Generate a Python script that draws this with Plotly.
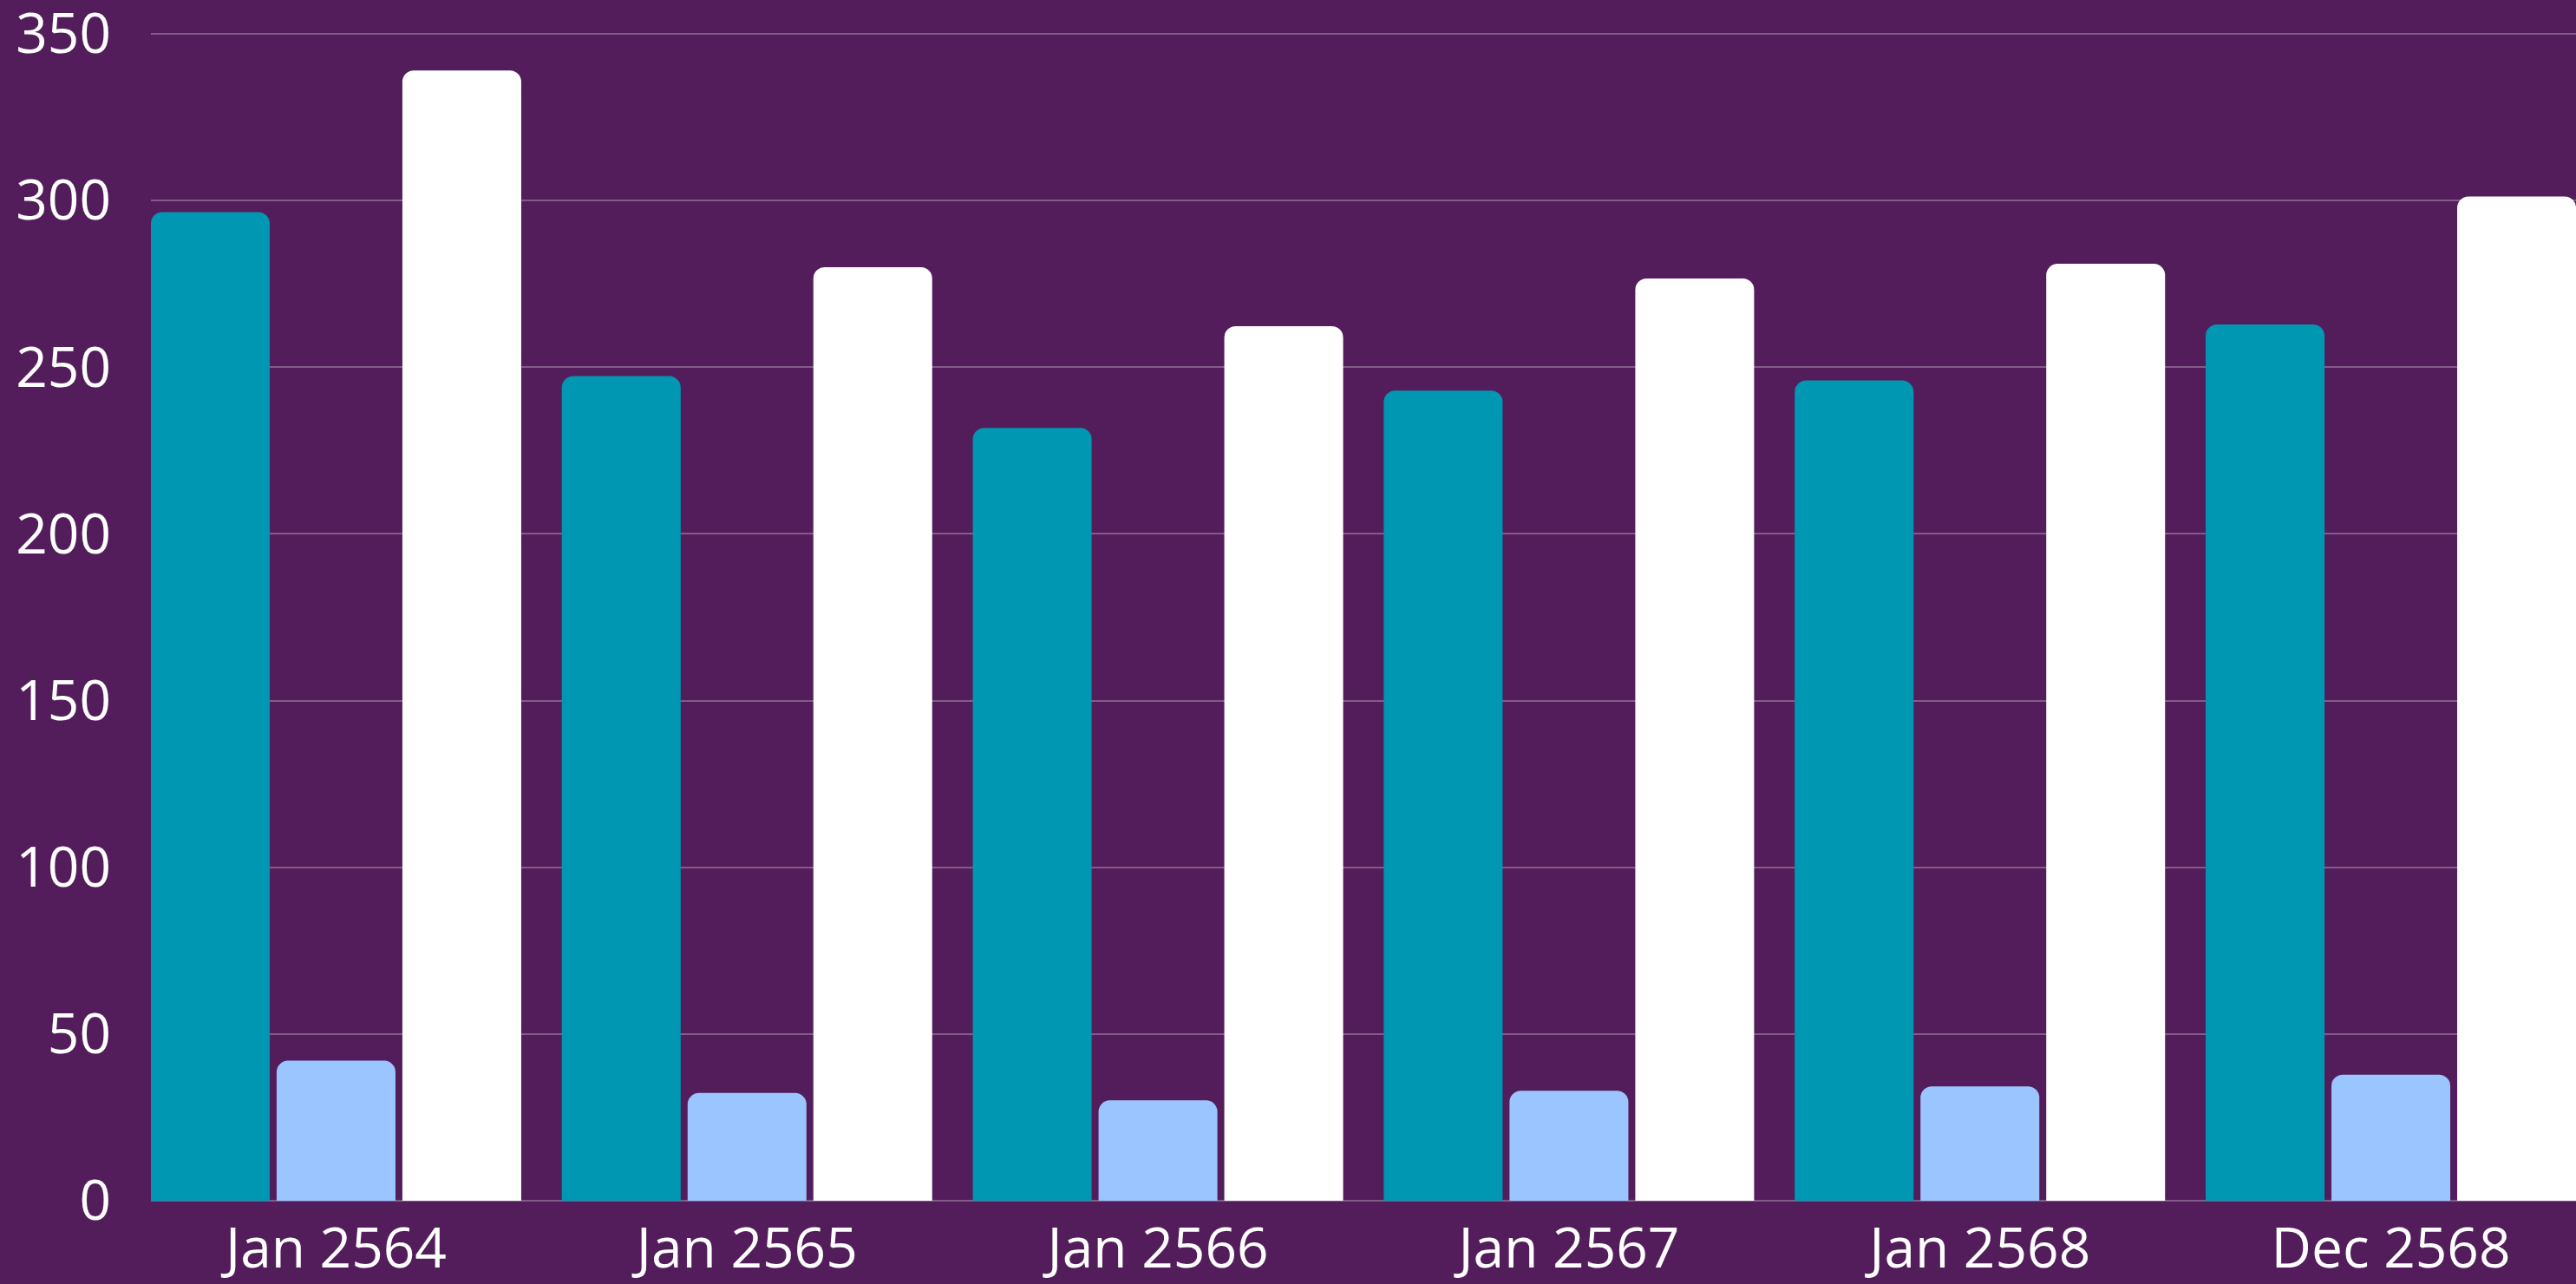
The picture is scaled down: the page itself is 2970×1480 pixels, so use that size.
import plotly.graph_objects as go

categories = ["Jan 2564", "Jan 2565", "Jan 2566", "Jan 2567", "Jan 2568", "Dec 2568"]
series_a = [296.5, 247.3, 231.8, 243.0, 246.0, 262.8]
series_b = [42.0, 32.3, 30.1, 33.0, 34.3, 37.8]
series_c = [339.0, 280.0, 262.3, 276.6, 281.0, 301.2]
y_ticks = [0, 50, 100, 150, 200, 250, 300, 350]

BG = "#531D5B"
GRID = "rgba(255,255,255,0.28)"
FONT = "Open Sans"

fig = go.Figure()
fig.add_trace(go.Bar(x=categories, y=series_a, name="A", marker=dict(color="#0097B2", line=dict(width=0))))
fig.add_trace(go.Bar(x=categories, y=series_b, name="B", marker=dict(color="#9AC5FE", line=dict(width=0))))
fig.add_trace(go.Bar(x=categories, y=series_c, name="C", marker=dict(color="#FFFFFF", line=dict(width=0))))

fig.update_layout(
    width=2970, height=1480,
    margin=dict(l=174, r=0, t=37, b=96, pad=0, autoexpand=False),
    paper_bgcolor=BG, plot_bgcolor=BG,
    barmode="group", bargap=0.082, bargroupgap=0.055,
    barcornerradius=13,
    showlegend=False,
    font=dict(family=FONT, color="white", size=64),
)
fig.update_xaxes(
    type="category", range=[-0.4505, 5.4505], automargin=False,
    showgrid=False, showline=False, zeroline=False, ticks="",
    tickfont=dict(family=FONT, size=64, color="white"),
    ticklabelstandoff=12, ticklabeloverflow="allow",
)
fig.update_yaxes(
    range=[0, 350.5], tickvals=y_ticks, automargin=False,
    showgrid=True, gridcolor=GRID, gridwidth=2,
    zeroline=True, zerolinecolor=GRID, zerolinewidth=2,
    showline=False, ticks="",
    tickfont=dict(family=FONT, size=64, color="white"),
    ticklabelstandoff=45, ticklabeloverflow="allow",
)

fig.write_html(
    "out.html",
    config={"displayModeBar": False},
    post_script="document.body.style.margin='0';document.body.style.background='%s';" % BG,
)
